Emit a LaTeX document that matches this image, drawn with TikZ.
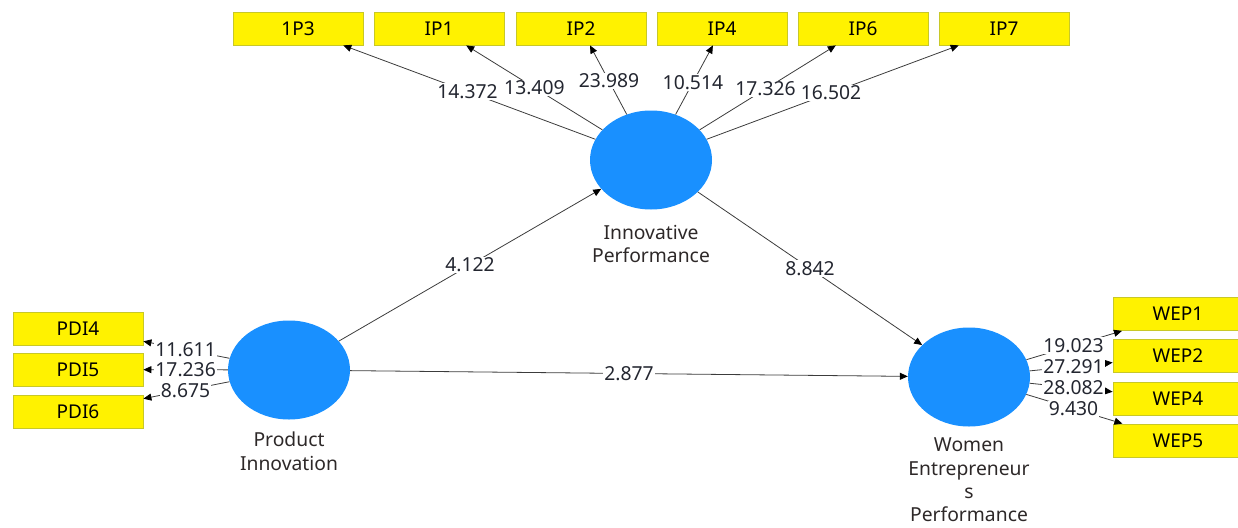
\documentclass[tikz,border=0pt]{standalone}
\usepackage{fontspec}
\setmainfont{Noto Sans}
\usetikzlibrary{arrows.meta,calc,shapes.geometric}
\definecolor{lvc}{RGB}{25,144,255}
\definecolor{indb}{RGB}{200,200,40}
\definecolor{linec}{RGB}{60,60,60}
\definecolor{numc}{RGB}{35,38,48}
\definecolor{namec}{RGB}{45,40,40}
\begin{document}
\begin{tikzpicture}[x=1pt,y=-1pt,
  ind/.style={draw=indb, line width=0.8pt, fill=yellow, minimum width=130pt, minimum height=33pt, inner sep=0pt, font=\fontsize{19}{22}\selectfont},
  lv/.style={ellipse, fill=lvc, minimum width=122pt, minimum height=99pt, inner sep=0pt},
  conn/.style={draw=linec, line width=0.8pt, -{Triangle[length=8pt,width=7pt,color=black]}},
  lbl/.style={fill=white, inner sep=1pt, text=numc, font=\fontsize{19.3}{22}\selectfont},
  lvname/.style={anchor=north, align=center, inner sep=0pt, text=namec, font=\fontsize{19.3}{23.3}\selectfont}
]
\useasboundingbox (0,0) rectangle (1238,527);
% latent variables
\node[lv] (ip) at (651,160) {};
\node[lv] (pi) at (289,370) {};
\node[lv] (wep) at (969,377) {};
\node[lvname] (ipn) at (651,225) {Innovative\\Performance};
\node[lvname] (pin) at (289,432) {Product\\Innovation};
\node[lvname] (wepn) at (969,438) {Women\\Entrepreneur\\s\\Performance};
% indicators
\node[ind] (ip3) at (298,28.5) {1P3};
\node[ind] (ip1) at (439,28.5) {IP1};
\node[ind] (ip2) at (581,28.5) {IP2};
\node[ind] (ip4) at (722,28.5) {IP4};
\node[ind] (ip6) at (863,28.5) {IP6};
\node[ind] (ip7) at (1004,28.5) {IP7};
\node[ind] (pdi4) at (78,328.5) {PDI4};
\node[ind] (pdi5) at (78,369.5) {PDI5};
\node[ind] (pdi6) at (78,411.5) {PDI6};
\node[ind] (wep1) at (1178,314) {WEP1};
\node[ind] (wep2) at (1178,356) {WEP2};
\node[ind] (wep4) at (1178,398.5) {WEP4};
\node[ind] (wep5) at (1178,440.5) {WEP5};
% loadings IP
\draw[conn] (ip) -- (ip3);
\draw[conn] (ip) -- (ip1);
\draw[conn] (ip) -- (ip2);
\draw[conn] (ip) -- (ip4);
\draw[conn] (ip) -- (ip6);
\draw[conn] (ip) -- (ip7);
\node[lbl] at ($(ip)!0.52!(ip3)$) {14.372};
\node[lbl] at ($(ip)!0.55!(ip1)$) {13.409};
\node[lbl] at ($(ip)!0.6!(ip2)$) {23.989};
\node[lbl] at ($(ip)!0.59!(ip4)$) {10.514};
\node[lbl] at ($(ip)!0.54!(ip6)$) {17.326};
\node[lbl] at ($(ip)!0.51!(ip7)$) {16.502};
% loadings PI
\draw[conn] (pi) -- (pdi4);
\draw[conn] (pi) -- (pdi5);
\draw[conn] (pi) -- (pdi6);
\node[lbl] at ($(pi)!0.49!(pdi4)$) {11.611};
\node[lbl] at ($(pi)!0.49!(pdi5)$) {17.236};
\node[lbl] at ($(pi)!0.49!(pdi6)$) {8.675};
% loadings WEP
\draw[conn] (wep) -- (wep1);
\draw[conn] (wep) -- (wep2);
\draw[conn] (wep) -- (wep4);
\draw[conn] (wep) -- (wep5);
\node[lbl] at ($(wep)!0.5!(wep1)$) {19.023};
\node[lbl] at ($(wep)!0.5!(wep2)$) {27.291};
\node[lbl] at ($(wep)!0.5!(wep4)$) {28.082};
\node[lbl] at ($(wep)!0.5!(wep5)$) {9.430};
% structural paths
\draw[conn] (pi) -- (ip);
\draw[conn] (ip) -- (wep);
\draw[conn] (pi) -- (wep);
\node[lbl] at ($(pi)!0.5!(ip)$) {4.122};
\node[lbl] at ($(ip)!0.5!(wep)$) {8.842};
\node[lbl] at ($(pi)!0.5!(wep)$) {2.877};
\end{tikzpicture}
\end{document}
